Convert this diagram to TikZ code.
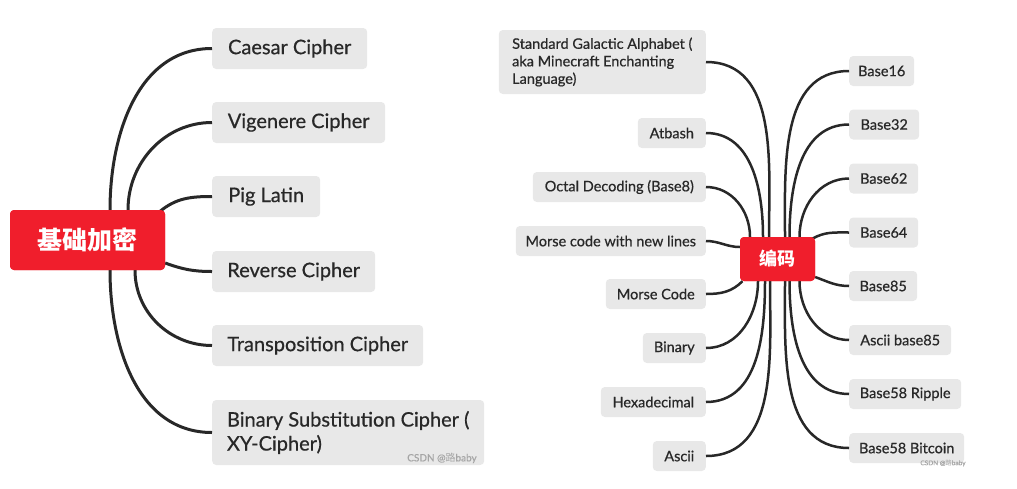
\documentclass[tikz,border=0pt]{standalone}
\usepackage{fontspec}
\setmainfont{Lato}[FakeBold=0.6]
\newfontfamily\cjk{Noto Sans CJK SC}
\definecolor{rootred}{RGB}{240,30,44}
\definecolor{boxgray}{RGB}{232,232,232}
\definecolor{linedark}{RGB}{40,40,40}
\definecolor{textdark}{RGB}{40,40,40}
\definecolor{wmgray}{RGB}{165,165,165}
\begin{document}
\begin{tikzpicture}[x=1pt,y=1pt,
  rootbox/.style={fill=rootred, rounded corners=4pt, text=white, inner sep=0pt},
  bigbox/.style={fill=boxgray, rounded corners=4pt, text=textdark, inner sep=0pt, minimum height=41pt, font=\fontsize{20}{24}\selectfont},
  smallbox/.style={fill=boxgray, rounded corners=4pt, text=textdark, inner sep=0pt, minimum height=30pt, font=\fontsize{14.5}{17.5}\selectfont},
  conn/.style={draw=linedark, line width=3pt},
  conn2/.style={draw=linedark, line width=2.5pt},
  wm/.style={text=wmgray, inner sep=0pt}
]
\useasboundingbox (0,0) rectangle (1017,-488);

% ---------- left map ----------
\node[rootbox, minimum width=155pt, minimum height=60pt] (r1) at (87.5,-240) {};
\node[bigbox, anchor=west, minimum width=155pt] (caesar) at (212,-48.5) {Caesar Cipher};
\node[bigbox, anchor=west, minimum width=173pt] (vig) at (212,-122.5) {Vigenere Cipher};
\node[bigbox, anchor=west, minimum width=108pt] (pig) at (212,-196.5) {Pig Latin};
\node[bigbox, anchor=west, minimum width=163pt] (rev) at (212,-271.5) {Reverse Cipher};
\node[bigbox, anchor=west, minimum width=211pt] (trans) at (212,-345.5) {Transposition Cipher};
\node[bigbox, anchor=west, minimum width=272pt, minimum height=65pt, align=left] (bsc) at (212,-432.5) {Binary Substitution Cipher (\\XY-Cipher)};

\begin{scope}[conn]
\draw ([xshift=22.5pt]r1.north) to[out=90,in=180] (caesar.west);
\draw ([xshift=40.5pt]r1.north) to[out=90,in=180] (vig.west);
\draw ([xshift=72pt,yshift=-2pt]r1.north) to[out=40,in=180] (pig.west);
\draw ([yshift=-23pt]r1.east) to[out=-20,in=180] (rev.west);
\draw ([xshift=47.5pt]r1.south) to[out=-90,in=180] (trans.west);
\draw ([xshift=22.5pt]r1.south) to[out=-90,in=180] (bsc.west);
\end{scope}
\node[rootbox, minimum width=155pt, minimum height=60pt] at (r1) {\cjk\bfseries\fontsize{25}{30}\selectfont 基础加密};

% ---------- right map ----------
\node[rootbox, minimum width=75pt, minimum height=44pt] (r2) at (777.5,-259) {};
\node[smallbox, anchor=west, minimum width=65pt] (b16) at (849,-71) {Base16};
\node[smallbox, anchor=west, minimum width=70pt] (b32) at (849,-124.5) {Base32};
\node[smallbox, anchor=west, minimum width=69pt] (b62) at (849,-178.5) {Base62};
\node[smallbox, anchor=west, minimum width=69pt] (b64) at (849,-232.5) {Base64};
\node[smallbox, anchor=west, minimum width=68pt] (b85) at (849,-286) {Base85};
\node[smallbox, anchor=west, minimum width=102pt] (a85) at (849,-340) {Ascii base85};
\node[smallbox, anchor=west, minimum width=112pt] (rip) at (849,-394) {Base58 Ripple};
\node[smallbox, anchor=west, minimum width=115pt] (btc) at (849,-448) {Base58 Bitcoin};

\node[smallbox, anchor=east, minimum width=207pt, minimum height=64pt, align=left] (sga) at (706,-62) {Standard Galactic Alphabet (\\aka Minecraft Enchanting\\Language)};
\node[smallbox, anchor=east, minimum width=68pt] (atb) at (706,-133) {Atbash};
\node[smallbox, anchor=east, minimum width=173pt] (oct) at (706,-187) {Octal Decoding (Base8)};
\node[smallbox, anchor=east, minimum width=190pt] (mnl) at (706,-241) {Morse code with new lines};
\node[smallbox, anchor=east, minimum width=100pt] (mc) at (706,-294) {Morse Code};
\node[smallbox, anchor=east, minimum width=63pt] (binr) at (706,-348) {Binary};
\node[smallbox, anchor=east, minimum width=105pt] (hex) at (706,-402) {Hexadecimal};
\node[smallbox, anchor=east, minimum width=53pt] (asc) at (706,-456) {Ascii};

\begin{scope}[conn2]
\draw ([xshift=-8.5pt]r2.north) to[out=90,in=0] (sga.east);
\draw ([xshift=-14.5pt]r2.north) to[out=90,in=0] (atb.east);
\draw ([xshift=-27.5pt]r2.north) to[out=90,in=0] (oct.east);
\draw ([yshift=12pt]r2.west) to[out=180,in=0] (mnl.east);
\draw ([xshift=-35pt]r2.south) to[out=-135,in=0] (mc.east);
\draw ([xshift=-19.5pt]r2.south) to[out=-90,in=0] (binr.east);
\draw ([xshift=-12.5pt]r2.south) to[out=-90,in=0] (hex.east);
\draw ([xshift=-7.5pt]r2.south) to[out=-90,in=0] (asc.east);
\draw ([xshift=7.5pt]r2.north) to[out=90,in=180] (b16.west);
\draw ([xshift=12pt]r2.north) to[out=90,in=180] (b32.west);
\draw ([xshift=22pt]r2.north) to[out=90,in=180] (b62.west);
\draw ([xshift=-3pt,yshift=-2pt]r2.north east) to[out=30,in=180] (b64.west);
\draw ([yshift=-18pt]r2.east) to[out=-20,in=180] (b85.west);
\draw ([xshift=22pt]r2.south) to[out=-90,in=180] (a85.west);
\draw ([xshift=12pt]r2.south) to[out=-90,in=180] (rip.west);
\draw ([xshift=7.5pt]r2.south) to[out=-90,in=180] (btc.west);
\end{scope}
\node[rootbox, minimum width=75pt, minimum height=44pt] at (r2) {\cjk\bfseries\fontsize{18}{22}\selectfont 编码};

% ---------- watermarks ----------
\node[wm, font=\fontsize{10}{12}\selectfont] (wm1) at (442,-458) {CSDN @{\cjk 路}baby};
\node[wm, font=\fontsize{6.5}{8}\selectfont] (wm2) at (943,-463) {CSDN @{\cjk 路}baby};
\end{tikzpicture}
\end{document}
